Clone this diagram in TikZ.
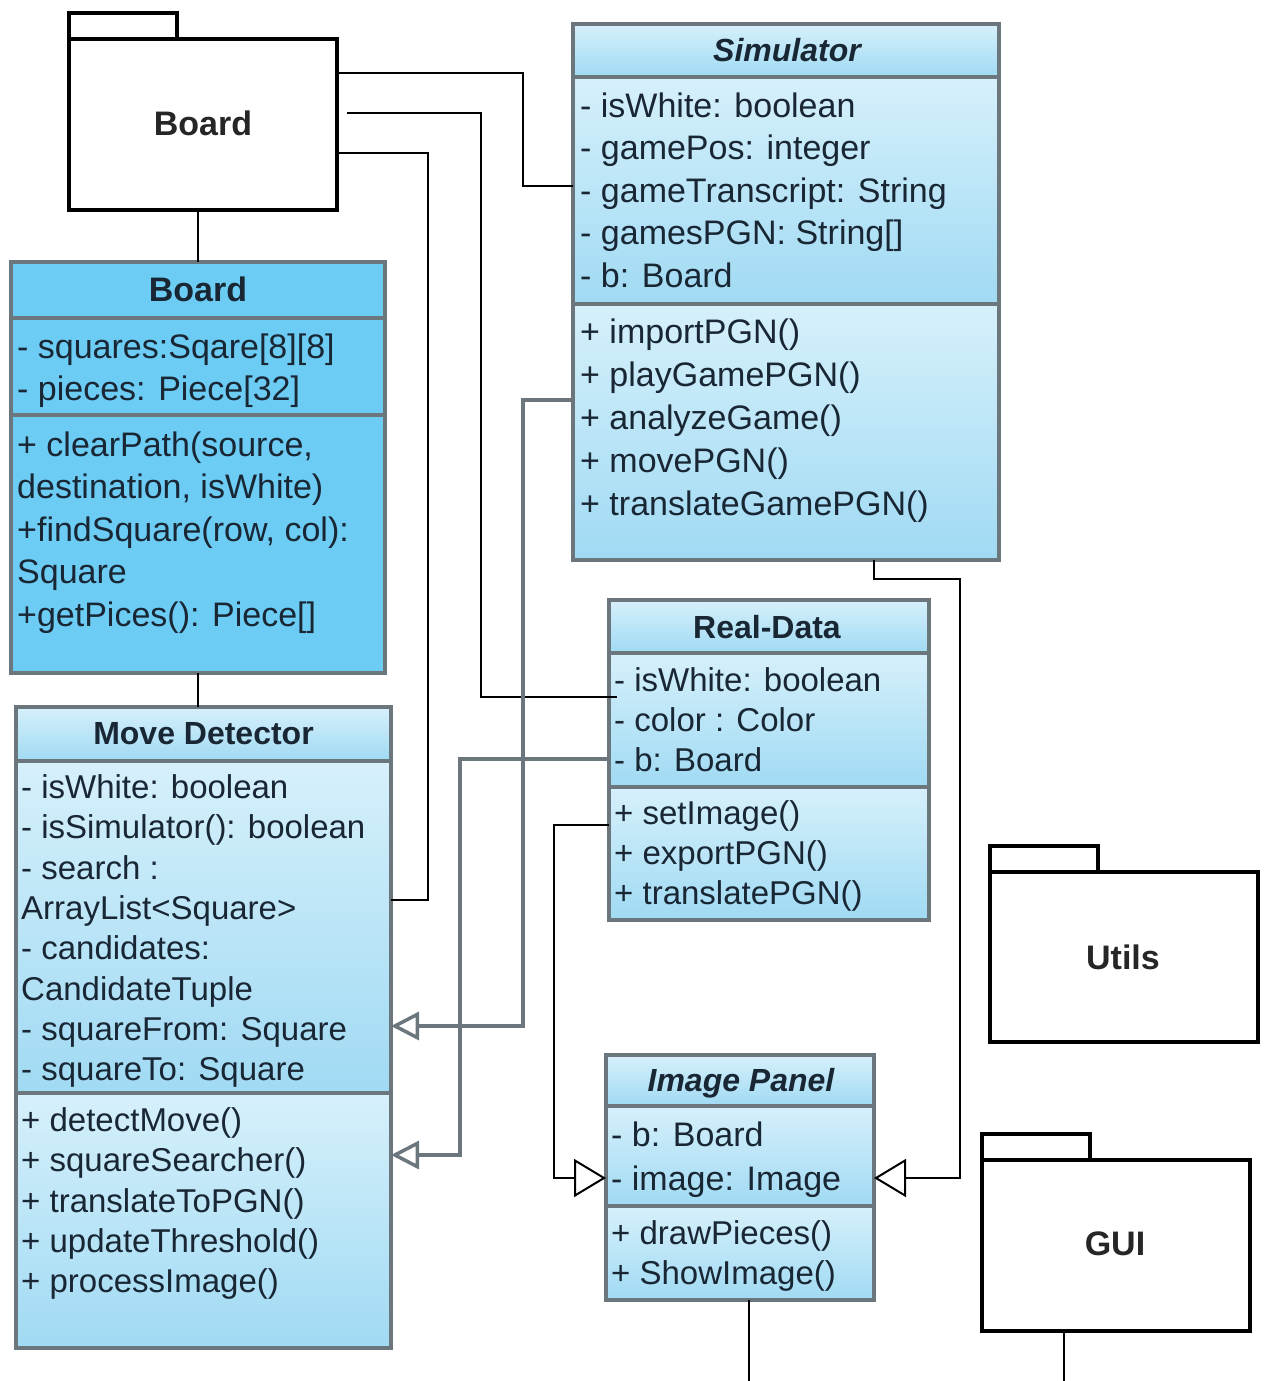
\documentclass[tikz,border=0pt]{standalone}
\usepackage{fontspec}
\setmainfont{Liberation Sans}
\usetikzlibrary{arrows.meta}

\definecolor{umlgray}{RGB}{107,118,125}
\definecolor{umldark}{RGB}{108,204,244}
\definecolor{umltop}{RGB}{214,240,251}
\definecolor{umlbot}{RGB}{160,218,243}
\definecolor{umltext}{RGB}{25,38,52}

\tikzset{
  pkg/.style={draw=black, line width=4pt, fill=white, inner sep=0pt, outer sep=0pt, anchor=north west},
  sect/.style={draw=umlgray, line width=3.5pt, inner sep=0pt, outer sep=0pt, anchor=north west},
  light/.style={sect, top color=umltop, bottom color=umlbot},
  member/.style={anchor=base west, inner sep=0pt, text=umltext, font=\fontsize{33}{40}\selectfont},
  cname/.style={anchor=base, inner sep=0pt, text=umltext, font=\fontsize{32}{38}\selectfont\bfseries},
  pname/.style={anchor=base, inner sep=0pt, text=black!85, font=\fontsize{34}{40}\selectfont\bfseries},
  assoc/.style={draw=black, line width=2pt},
  gen/.style={draw=umlgray, line width=3.5pt, -{Triangle[open, length=28pt, width=28pt]}},
  realize/.style={draw=black, line width=2pt, -{Triangle[open, length=32pt, width=38pt]}},
}

\begin{document}
\begin{tikzpicture}[x=1pt, y=-1pt]
    \useasboundingbox (0,0) rectangle (1267,1381);

    % packages
    \node[pkg, minimum width=108pt, minimum height=26pt] (btab) at (69,13) {};
    \node[pkg, minimum width=268pt, minimum height=171pt] (bpkg) at (69,39) {};
    \node[pname] (bpkg-name) at (203,135) {Board};

    \node[pkg, minimum width=108pt, minimum height=26pt] (utab) at (990,846) {};
    \node[pkg, minimum width=268pt, minimum height=170pt] (upkg) at (990,872) {};
    \node[pname] (upkg-name) at (1123,969.5) {Utils};

    \node[pkg, minimum width=108pt, minimum height=26pt] (gtab) at (982,1134) {};
    \node[pkg, minimum width=268pt, minimum height=171pt] (gpkg) at (982,1160) {};
    \node[pname] (gpkg-name) at (1115,1255.5) {GUI};

    % Board
    \node[sect, fill=umldark, minimum width=374pt, minimum height=56pt] (bcls-head) at (11,262) {};
    \node[sect, fill=umldark, minimum width=374pt, minimum height=97pt] (bcls-attr) at (bcls-head.south west) {};
    \node[sect, fill=umldark, minimum width=374pt, minimum height=258pt] (bcls-meth) at (bcls-attr.south west) {};
    \node[cname, font=\fontsize{34}{40}\selectfont\bfseries] (bcls-name) at (198,301) {Board};
    \foreach \t [count=\i from 0] in {{- squares:Sqare[8][8]}, {- pieces: Piece[32]}}
        \node[member, font=\fontsize{34}{40}\selectfont] (bcls-a\i) at (17,{358+42*\i}) {\t};
    \foreach \t [count=\i from 0] in {{+ clearPath(source,}, {destination, isWhite)}, {+findSquare(row, col):}, Square, {+getPices(): Piece[]}}
        \node[member, font=\fontsize{34}{40}\selectfont] (bcls-m\i) at (17,{456+42.5*\i}) {\t};

    % Simulator
    \node[light, minimum width=426pt, minimum height=53pt] (sim-head) at (573,24) {};
    \node[light, minimum width=426pt, minimum height=227pt] (sim-attr) at (sim-head.south west) {};
    \node[light, minimum width=426pt, minimum height=256pt] (sim-meth) at (sim-attr.south west) {};
    \node[cname, font=\fontsize{32}{38}\selectfont\bfseries\itshape] (sim-name) at (787,61.5) {Simulator};
    \foreach \t [count=\i from 0] in {{- isWhite: boolean}, {- gamePos: integer}, {- gameTranscript: String}, {- gamesPGN: String[]}, {- b: Board}}
        \node[member, font=\fontsize{34}{40}\selectfont] (sim-a\i) at (580,{117+42.5*\i}) {\t};
    \foreach \t [count=\i from 0] in {{+ importPGN()}, {+ playGamePGN()}, {+ analyzeGame()}, {+ movePGN()}, {+ translateGamePGN()}}
        \node[member, font=\fontsize{34}{40}\selectfont] (sim-m\i) at (580,{343+43*\i}) {\t};

    % Move Detector
    \node[light, minimum width=375pt, minimum height=54pt] (md-head) at (16,707) {};
    \node[light, minimum width=375pt, minimum height=332pt] (md-attr) at (md-head.south west) {};
    \node[light, minimum width=375pt, minimum height=255pt] (md-meth) at (md-attr.south west) {};
    \node[cname] (md-name) at (203.5,744.5) {Move Detector};
    \foreach \t [count=\i from 0] in {{- isWhite: boolean}, {- isSimulator(): boolean}, {- search :}, {ArrayList<Square>}, {- candidates:}, CandidateTuple, {- squareFrom: Square}, {- squareTo: Square}}
        \node[member] (md-a\i) at (21,{798.5+40.3*\i}) {\t};
    \foreach \t [count=\i from 0] in {{+ detectMove()}, {+ squareSearcher()}, {+ translateToPGN()}, {+ updateThreshold()}, {+ processImage()}}
        \node[member] (md-m\i) at (21,{1131.5+40.3*\i}) {\t};

    % Real-Data
    \node[light, minimum width=320pt, minimum height=53pt] (rd-head) at (609,600) {};
    \node[light, minimum width=320pt, minimum height=134pt] (rd-attr) at (rd-head.south west) {};
    \node[light, minimum width=320pt, minimum height=133pt] (rd-meth) at (rd-attr.south west) {};
    \node[cname] (rd-name) at (767,638.5) {Real-Data};
    \foreach \t [count=\i from 0] in {{- isWhite: boolean}, {- color : Color}, {- b: Board}}
        \node[member] (rd-a\i) at (614,{691.5+40*\i}) {\t};
    \foreach \t [count=\i from 0] in {{+ setImage()}, {+ exportPGN()}, {+ translatePGN()}}
        \node[member] (rd-m\i) at (614,{824+40*\i}) {\t};

    % Image Panel
    \node[light, minimum width=268pt, minimum height=51pt] (ip-head) at (606,1055) {};
    \node[light, minimum width=268pt, minimum height=100pt] (ip-attr) at (ip-head.south west) {};
    \node[light, minimum width=268pt, minimum height=94pt] (ip-meth) at (ip-attr.south west) {};
    \node[cname, font=\fontsize{32}{38}\selectfont\bfseries\itshape] (ip-name) at (741,1091.5) {Image Panel};
    \foreach \t [count=\i from 0] in {{- b: Board}, {- image: Image}}
        \node[member, font=\fontsize{34}{40}\selectfont] (ip-a\i) at (611,{1146+44*\i}) {\t};
    \foreach \t [count=\i from 0] in {{+ drawPieces()}, {+ ShowImage()}}
        \node[member] (ip-m\i) at (611,{1244.5+39.5*\i}) {\t};

    % connectors
    \coordinate (ipend) at (749,1381);
    \coordinate (guiend) at (1064,1381);
    \draw[assoc] (bcls-head.north |- bpkg.south) -- (bcls-head.north);
    \draw[assoc] (bcls-meth.south) -- (bcls-meth.south |- md-head.north);
    \draw[assoc] (bpkg.east |- 0,73) -| (523,186) -- (sim-attr.west |- 0,186);
    \draw[assoc] (bpkg.east |- 0,113) ++(10,0) -| (481,697) -- (rd-attr.west |- 0,697) -- ++(8,0);
    \draw[assoc] (bpkg.east |- 0,153) -| (428,900) -- (md-attr.east |- 0,900);
    \draw[gen] (sim-meth.west |- 0,400) -| (523,1026) -- (md-attr.east |- 0,1026);
    \draw[gen] (rd-attr.west |- 0,759) -| (460,1155) -- (md-meth.east |- 0,1155);
    \draw[realize] (rd-meth.west |- 0,825) -| (554,1178) -- (ip-attr.west |- 0,1178);
    \draw[realize] (sim-meth.south -| 874,0) |- (960,579) |- (ip-attr.east |- 0,1178);
    \draw[assoc] (ip-meth.south -| ipend) -- (ipend);
    \draw[assoc] (gpkg.south -| guiend) -- (guiend);

\end{tikzpicture}
\end{document}
